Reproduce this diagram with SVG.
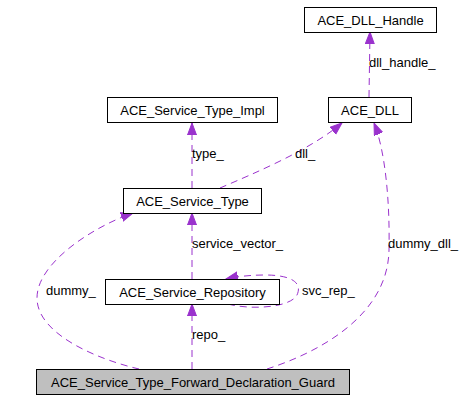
<svg xmlns="http://www.w3.org/2000/svg" width="472" height="400" viewBox="0 0 472 400">
<style>
text{font-family:"Liberation Sans",Arial,sans-serif;font-size:13px;fill:#000}
.node rect{fill:#fff;stroke:#000;stroke-width:1}
.node text{text-anchor:middle}
#guard rect{fill:#bfbfbf}
.edge{fill:none;stroke:#9a32cd;stroke-width:1;stroke-dasharray:7,5;marker-end:url(#arr)}
</style>
<defs>
<marker id="arr" markerUnits="userSpaceOnUse" markerWidth="14" markerHeight="11" refX="12" refY="5" orient="auto">
<path d="M0,0.5 L12,5 L0,9.5 z" fill="#9a32cd" stroke="#9a32cd" stroke-width="1"/>
</marker>
</defs>
<rect width="472" height="400" fill="#fff"/>
<g id="connectors">
<path class="edge" d="M192,188 L192,123"/>
<path class="edge" d="M192,279 L192,213"/>
<path class="edge" d="M192,369 L192,304"/>
<path class="edge" d="M369,97 L370,32"/>
<path class="edge" d="M220,188 C255,173 310,150 342,123"/>
<path class="edge" d="M139,369 C100,360 37,335 37,298 C37,262 95,226 133,213"/>
<path class="edge" d="M267,369 C320,352 388,315 389,250 C390,200 385,150 374,123"/>
<path class="edge" d="M228,304 C250,310 290,308 297,295 C303,282 290,275 265,275 C248,275 235,277 226,279"/>
<text x="192" y="158">type_</text>
<text x="295" y="158">dll_</text>
<text x="369" y="67">dll_handle_</text>
<text x="192" y="248">service_vector_</text>
<text x="46" y="295">dummy_</text>
<text x="302" y="295">svc_rep_</text>
<text x="192" y="339">repo_</text>
<text x="388" y="248">dummy_dll_</text>
</g>
<g id="handle" class="node"><rect x="304.5" y="7.5" width="132" height="25"/><text x="370.5" y="24.5">ACE_DLL_Handle</text></g>
<g id="impl" class="node"><rect x="107.5" y="97.5" width="170" height="25"/><text x="192.5" y="114.5">ACE_Service_Type_Impl</text></g>
<g id="dll" class="node"><rect x="328.5" y="97.5" width="83" height="25"/><text x="370" y="114.5">ACE_DLL</text></g>
<g id="stype" class="node"><rect x="123.5" y="188.5" width="138" height="25"/><text x="192.5" y="205.5">ACE_Service_Type</text></g>
<g id="repo" class="node"><rect x="105.5" y="279.5" width="174" height="25"/><text x="192.5" y="296.5">ACE_Service_Repository</text></g>
<g id="guard" class="node"><rect x="36.5" y="369.5" width="313" height="25"/><text x="193" y="386.5">ACE_Service_Type_Forward_Declaration_Guard</text></g>
</svg>
